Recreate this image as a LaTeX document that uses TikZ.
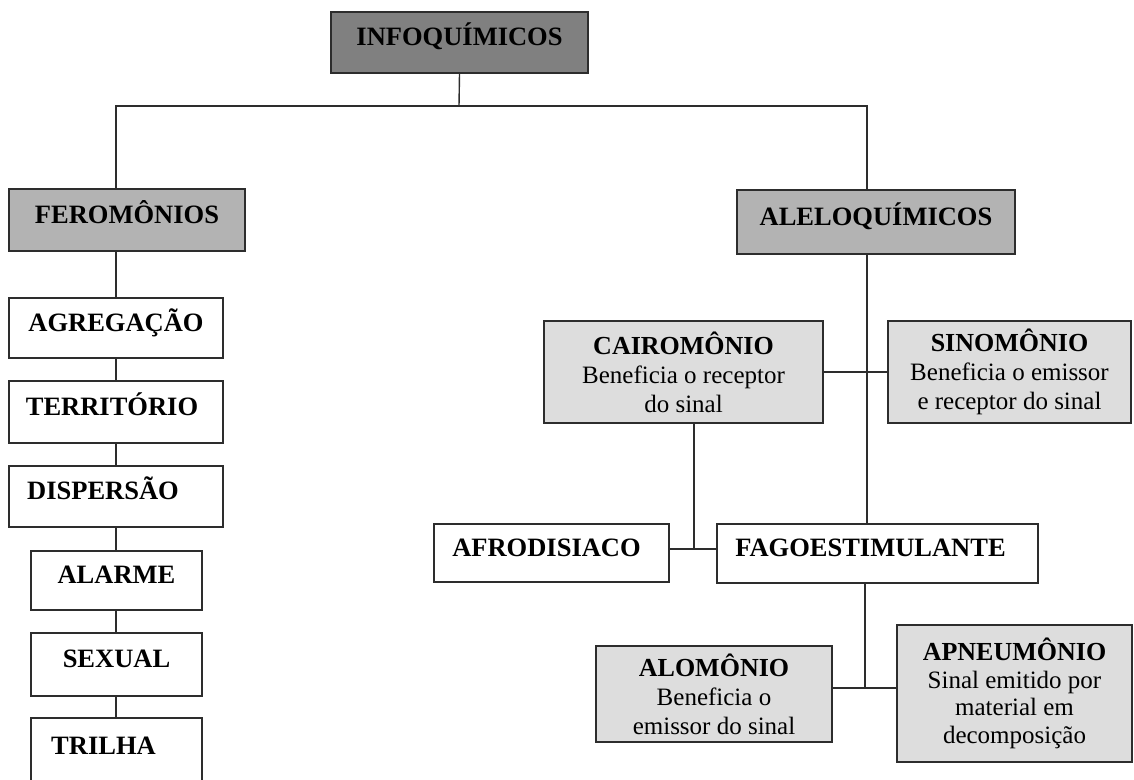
\documentclass[tikz,border=0pt]{standalone}
\usepackage{fontspec}
\setmainfont{Liberation Serif}
\usepackage{xcolor}
\usepackage{tikz}

\definecolor{darkfill}{RGB}{128,128,128}
\definecolor{midfill}{RGB}{179,179,179}
\definecolor{lightfill}{RGB}{221,221,221}
\definecolor{edgegray}{RGB}{45,45,45}

\newcommand{\headtxt}[1]{{\fontsize{26}{29}\selectfont\bfseries #1}}

\tikzset{
  box/.style={draw=edgegray, line width=1.4pt, inner sep=0pt,
    font=\fontsize{26.5}{29}\selectfont\bfseries, text height=17.5pt, text depth=11pt},
  topbox/.style={box, fill=darkfill},
  groupbox/.style={box, fill=midfill},
  kindbox/.style={box, fill=white},
  descbox/.style={draw=edgegray, line width=1.4pt, fill=lightfill, inner sep=0pt,
    align=center, font=\fontsize{25}{29}\selectfont},
  link/.style={draw=edgegray, line width=1.4pt}
}

\begin{document}
\begin{tikzpicture}[x=1pt,y=-1pt]
                \useasboundingbox (0,0) rectangle (1134,779);

                % Top and groups
                \node[topbox, minimum width=257pt, minimum height=61pt] (info) at (459.5,42.5) {INFOQUÍMICOS};
                \node[groupbox, minimum width=236pt, minimum height=62pt] (fer) at (127,220) {FEROMÔNIOS};
                \node[groupbox, minimum width=278pt, minimum height=64pt] (ale) at (876,222) {ALELOQUÍMICOS};

                % Feromonios
                \node[kindbox, minimum width=214pt, minimum height=60pt] (agr) at (116,328) {AGREGAÇÃO};
                \node[kindbox, minimum width=214pt, minimum height=62pt] (ter) at (116,412) {TERRITÓRIO\hspace*{8pt}};
                \node[kindbox, minimum width=214pt, minimum height=61pt] (dis) at (116,496.5) {DISPERSÃO\hspace*{26pt}};
                \node[kindbox, minimum width=171pt, minimum height=59pt] (ala) at (116.5,580.5) {ALARME};
                \node[kindbox, minimum width=171pt, minimum height=63pt] (sex) at (116.5,664.5) {SEXUAL};
                \node[kindbox, minimum width=171pt, minimum height=66pt] (tri) at (116.5,751) {TRILHA\hspace*{26pt}};

                % Aleloquimicos
                \node[descbox, minimum width=279pt, minimum height=102pt] (cai) at (683.5,372)
                  {\headtxt{CAIROMÔNIO}\\Beneficia o receptor\\do sinal};
                \node[descbox, minimum width=243pt, minimum height=102pt] (sin) at (1009.5,372)
                  {\headtxt{SINOMÔNIO}\\Beneficia o emissor\\e receptor do sinal};
                \node[kindbox, minimum width=235pt, minimum height=58pt] (afr) at (551.5,553) {AFRODISIACO\hspace*{10pt}};
                \node[kindbox, minimum width=321pt, minimum height=59pt] (fag) at (877.5,553.5) {FAGOESTIMULANTE\hspace*{14pt}};
                \node[descbox, minimum width=236pt, minimum height=96pt] (alo) at (714,694)
                  {\headtxt{ALOMÔNIO}\\Beneficia o\\emissor do sinal};
                \node[descbox, minimum width=235pt, minimum height=137pt, font=\fontsize{25}{27.5}\selectfont] (apn) at (1014.5,693.5)
                  {\headtxt{APNEUMÔNIO}\\Sinal emitido por\\material em\\decomposição};

                % Branch points
                \coordinate (split) at (459,106);
                \coordinate (trunk) at (867,106);
                \coordinate (jA) at (694,549);
                \coordinate (jB) at (865,688);

                % Connectors
                \draw[link] (info.south) -- (split);
                \draw[link] (split) -| (fer.north -| agr.north);
                \draw[link] (split) -- (trunk) -- (ale.north -| trunk);
                \draw[link] (fer.south -| agr.north) -- (agr.north);
                \draw[link] (agr.south) -- (ter.north -| agr.south);
                \draw[link] (ter.south -| agr.south) -- (dis.north -| agr.south);
                \draw[link] (dis.south -| agr.south) -- (ala.north -| agr.south);
                \draw[link] (ala.south -| agr.south) -- (sex.north -| agr.south);
                \draw[link] (sex.south -| agr.south) -- (tri.north -| agr.south);
                \draw[link] (ale.south -| trunk) -- (fag.north -| trunk);
                \draw[link] (cai.east) -- (sin.west);
                \draw[link] (afr.east |- jA) -- (fag.west |- jA);
                \draw[link] (cai.south -| jA) -- (jA);
                \draw[link] (alo.east |- jB) -- (apn.west |- jB);
                \draw[link] (fag.south -| jB) -- (jB);
\end{tikzpicture}
\end{document}
